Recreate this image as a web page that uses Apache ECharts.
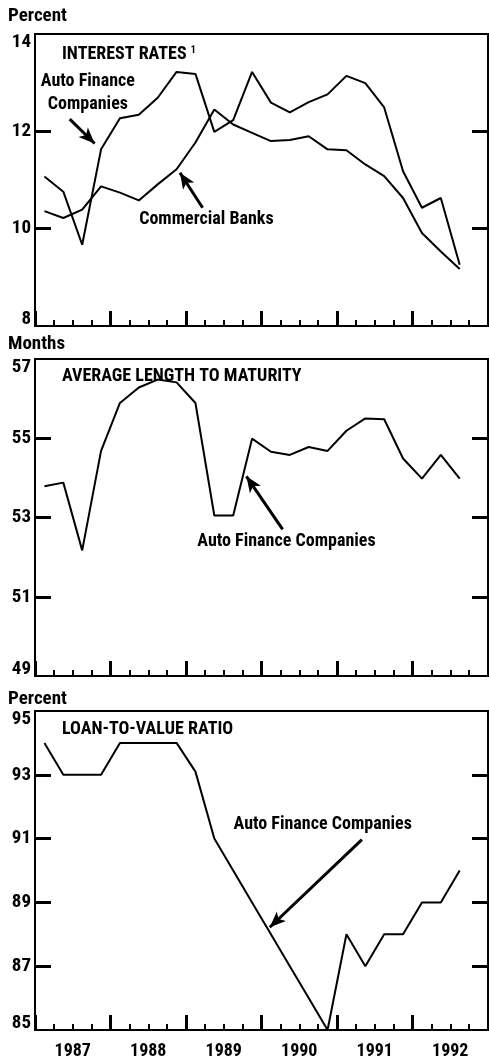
<!DOCTYPE html>
<html>
<head>
<meta charset="utf-8">
<script src="https://cdn.jsdelivr.net/npm/echarts@6/dist/echarts.min.js"></script>
<style>
  html, body { margin: 0; padding: 0; background: #fff; }
  #chart { width: 489px; height: 1060px; }
</style>
</head>
<body>
<div id="chart"></div>
<script>
// quarterly observations, 1987 Q1 .. 1992 Q3
const quarters = [
  '1987 Q1', '1987 Q2', '1987 Q3', '1987 Q4',
  '1988 Q1', '1988 Q2', '1988 Q3', '1988 Q4',
  '1989 Q1', '1989 Q2', '1989 Q3', '1989 Q4',
  '1990 Q1', '1990 Q2', '1990 Q3', '1990 Q4',
  '1991 Q1', '1991 Q2', '1991 Q3', '1991 Q4',
  '1992 Q1', '1992 Q2', '1992 Q3'
];

// interest rates, percent
const autoRate = [11.07, 10.76, 9.67, 11.63, 12.27, 12.34, 12.69, 13.22, 13.18, 11.99, 12.23, 13.22,
  12.59, 12.39, 12.6, 12.76, 13.14, 12.99, 12.49, 11.18, 10.43, 10.63, 9.26];
const bankRate = [10.36, 10.22, 10.39, 10.87, 10.74, 10.58, 10.91, 11.22, 11.77, 12.45, 12.14, 11.97,
  11.8, 11.82, 11.9, 11.63, 11.61, 11.32, 11.08, 10.63, 9.91, 9.53, 9.17];

// average length to maturity, months
const autoMaturity = [53.79, 53.88, 52.17, 54.68, 55.89, 56.28, 56.48, 56.41, 55.89, 53.05, 53.05, 54.99,
  54.66, 54.58, 54.78, 54.68, 55.19, 55.5, 55.48, 54.49, 53.98, 54.58, 53.98];

// loan-to-value ratio, percent
const autoLtv = [94, 93, 93, 93, 94, 94, 94, 94, 93.1, 91, 90, 89,
  88, 87, 86, 85, 88, 87, 88, 88, 89, 89, 90];

const years = ['1987', '1988', '1989', '1990', '1991', '1992'];
const rateTicks = [8, 10, 12, 14];
const maturityTicks = [49, 51, 53, 55, 57];
const ltvTicks = [85, 87, 89, 91, 93, 95];

const FONT = '"Roboto Condensed", "Liberation Sans", Arial, sans-serif';

// a quarter sits at its middle on the time axis
function quarterX(q) {
  const parts = q.split(' Q');
  return Number(parts[0]) + (Number(parts[1]) - 1) * 0.25 + 0.125;
}
function pairs(values) {
  return quarters.map((q, i) => [quarterX(q), values[i]]);
}

const firstYear = Number(years[0]);
const lastYear = Number(years[years.length - 1]) + 1;
const quarterTicks = [];
for (let v = firstYear; v <= lastYear; v += 0.25) quarterTicks.push(v);
const yearTicks = years.map(Number).concat([lastYear]);
const yearLabelPos = years.map(y => Number(y) + 0.5);

const grids = [
  { left: 35, right: 1, top: 34, height: 292 },
  { left: 35, right: 1, top: 359, height: 317 },
  { left: 35, right: 1, top: 711, height: 320 }
];

const xAxes = [];
const yAxes = [];
grids.forEach((g, gi) => {
  const last = gi === grids.length - 1;
  // short quarterly ticks (and year labels on the last panel)
  xAxes.push({
    type: 'value', gridIndex: gi, min: firstYear, max: lastYear,
    axisLine: { show: true, lineStyle: { color: '#000', width: 2 } },
    axisTick: { show: true, inside: true, length: 6, customValues: quarterTicks,
      lineStyle: { color: '#000', width: 2 } },
    axisLabel: {
      show: last, customValues: yearLabelPos, margin: 12,
      formatter: v => String(Math.floor(v)),
      color: '#000', fontFamily: FONT, fontWeight: 'bold', fontSize: 18
    },
    splitLine: { show: false }
  });
  // long year ticks
  xAxes.push({
    type: 'value', gridIndex: gi, min: firstYear, max: lastYear, position: 'bottom',
    axisLine: { show: false },
    axisTick: { show: true, inside: true, length: 15, customValues: yearTicks,
      lineStyle: { color: '#000', width: 3 } },
    axisLabel: { show: false },
    splitLine: { show: false }
  });
});

function addY(gi, ticks) {
  const min = ticks[0];
  const max = ticks[ticks.length - 1];
  const inner = ticks.filter(t => t > min && t < max);
  // end labels sit just inside the box, like the original
  const labelRich = {
    top: { fontFamily: FONT, fontWeight: 'bold', fontSize: 19, color: '#000', padding: [16, 0, 0, 0] },
    bot: { fontFamily: FONT, fontWeight: 'bold', fontSize: 19, color: '#000', padding: [0, 0, 14, 0] }
  };
  yAxes.push({
    type: 'value', gridIndex: gi, min: min, max: max, position: 'left',
    axisLine: { show: true, lineStyle: { color: '#000', width: 2 } },
    axisTick: { show: true, inside: true, length: 16, customValues: inner,
      lineStyle: { color: '#000', width: 3 } },
    axisLabel: {
      customValues: ticks, margin: 4, color: '#000', fontFamily: FONT,
      fontWeight: 'bold', fontSize: 19, rich: labelRich,
      formatter: v => v === max ? '{top|' + v + '}' : v === min ? '{bot|' + v + '}' : String(v)
    },
    splitLine: { show: false }
  });
  yAxes.push({
    type: 'value', gridIndex: gi, min: min, max: max, position: 'right',
    axisLine: { show: true, lineStyle: { color: '#000', width: 2 } },
    axisTick: { show: true, inside: true, length: 16, customValues: inner,
      lineStyle: { color: '#000', width: 3 } },
    axisLabel: { show: false },
    splitLine: { show: false }
  });
}
addY(0, rateTicks);
addY(1, maturityTicks);
addY(2, ltvTicks);

const lineStyle = { color: '#000', width: 2 };
const textStyle = { color: '#000', fontFamily: FONT, fontWeight: 'bold', fontSize: 18, lineHeight: 23 };

function arrow(from, to) {
  return {
    silent: true, animation: false,
    symbol: ['none', 'arrow'], symbolSize: [10, 16],
    lineStyle: { color: '#000', width: 3, type: 'solid' },
    label: { show: false },
    data: [[{ coord: from }, { coord: to }]]
  };
}
function note(text, at) {
  return {
    silent: true, animation: false,
    data: [{
      coord: at, symbol: 'rect', symbolSize: 1,
      itemStyle: { color: 'rgba(0,0,0,0)' },
      label: Object.assign({ show: true, position: 'inside', formatter: text, align: 'center' }, textStyle)
    }]
  };
}

function series(values, gi, extra) {
  return Object.assign({
    type: 'line', xAxisIndex: gi * 2, yAxisIndex: gi * 2,
    data: pairs(values), showSymbol: false, symbol: 'none',
    lineStyle: lineStyle, animation: false, silent: true
  }, extra);
}

const titleStyle = { color: '#000', fontFamily: FONT, fontWeight: 'bold', fontSize: 19 };
const headStyle = { color: '#000', fontFamily: FONT, fontWeight: 'bold', fontSize: 18 };

const option = {
  backgroundColor: '#fff',
  animation: false,
  grid: grids.map(g => Object.assign({ show: true, borderColor: '#000', borderWidth: 2, containLabel: false }, g)),
  xAxis: xAxes,
  yAxis: yAxes,
  title: [
    { text: 'Percent', left: 8, top: 7, padding: 0, textStyle: titleStyle },
    { text: 'INTEREST RATES {s|1}', left: 62, top: 45, padding: 0,
      textStyle: Object.assign({}, headStyle, { rich: { s: { fontSize: 10, fontFamily: FONT, fontWeight: 'bold', color: '#000', padding: [0, 0, 8, 0] } } }) },
    { text: 'Months', left: 8, top: 335, padding: 0, textStyle: titleStyle },
    { text: 'AVERAGE LENGTH TO MATURITY', left: 62, top: 367, padding: 0, textStyle: headStyle },
    { text: 'Percent', left: 8, top: 690, padding: 0, textStyle: titleStyle },
    { text: 'LOAN-TO-VALUE RATIO', left: 62, top: 720, padding: 0, textStyle: headStyle }
  ],
  series: [
    series(autoRate, 0, {
      name: 'Auto Finance Companies',
      markLine: arrow([1987.46, 12.25], [1987.79, 11.75]),
      markPoint: note('Auto Finance\nCompanies', [1987.70, 12.79])
    }),
    series(bankRate, 0, {
      name: 'Commercial Banks',
      markLine: arrow([1989.22, 10.43], [1988.92, 11.15]),
      markPoint: note('Commercial Banks', [1989.27, 10.19])
    }),
    series(autoMaturity, 1, {
      name: 'Auto Finance Companies',
      markLine: arrow([1990.28, 52.70], [1989.80, 54.04]),
      markPoint: note('Auto Finance Companies', [1990.33, 52.39])
    }),
    series(autoLtv, 2, {
      name: 'Auto Finance Companies',
      markLine: arrow([1991.33, 90.97], [1990.11, 88.22]),
      markPoint: note('Auto Finance Companies', [1990.81, 91.44])
    })
  ]
};

const chart = echarts.init(document.getElementById('chart'), null, { renderer: 'canvas' });
chart.setOption(option);
</script>
</body>
</html>
